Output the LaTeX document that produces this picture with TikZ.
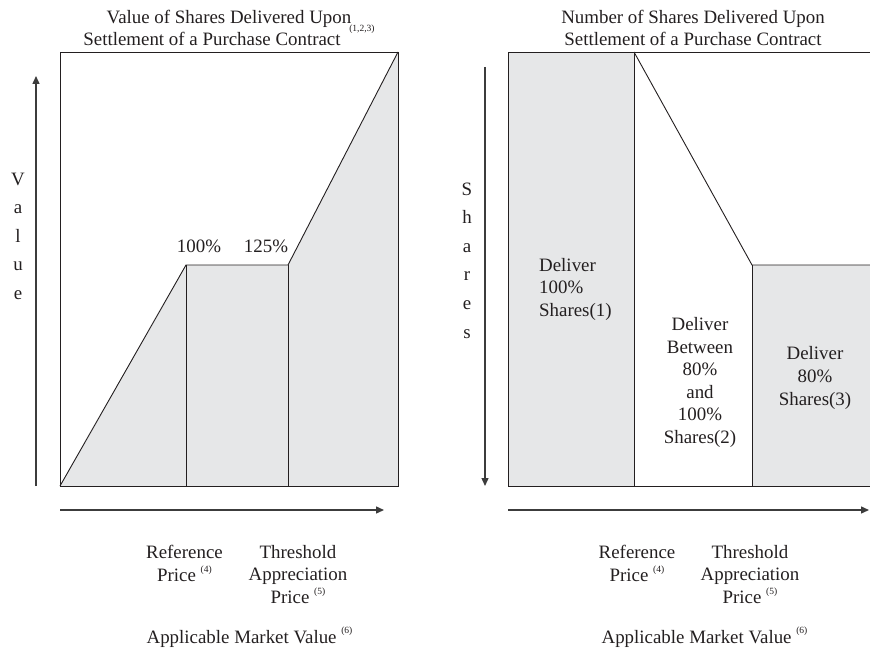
\documentclass[tikz,border=0pt]{standalone}
\usepackage{fontspec}
\setmainfont{Liberation Serif}
\usetikzlibrary{arrows.meta}
\definecolor{lightfill}{HTML}{E6E7E8}
\definecolor{ink}{HTML}{231F20}
\definecolor{axisgray}{HTML}{3C3C3C}
\newcommand{\supr}[2][10]{\smash{\raisebox{#1pt}{\fontsize{9.5}{10}\selectfont #2}}}
\begin{document}
\begin{tikzpicture}[x=1pt,y=-1pt,
  txt/.style={font=\fontsize{18.9}{22.5}\selectfont, inner sep=0pt, align=center, anchor=base, text=ink},
  vert/.style={font=\fontsize{18.9}{28.5}\selectfont, inner sep=0pt, align=center, anchor=base, text=ink},
  frame/.style={draw=ink, line width=0.9pt, line join=miter},
  axisarrow/.style={draw=axisgray, line width=1.4pt, -{Triangle[length=8pt,width=7pt]}}]
\useasboundingbox (0,0) rectangle (870,650);

% ---------- left panel ----------
\fill[lightfill] (60,486) -- (186,265) -- (288,265) -- (398,52) -- (398,486) -- cycle;
\draw[frame] (60,52) rectangle (398,486);
\draw[frame] (186,265) -- (186,486);
\draw[frame] (288,265) -- (288,486);
\draw[frame] (60,486) -- (186,265) -- (288,265) -- (398,52);

\coordinate (lvb) at (36,486);
\coordinate (lvt) at (36,76);
\draw[axisarrow] (lvb) -- (lvt);
\coordinate (lhl) at (60,510);
\coordinate (lhr) at (384,510);
\draw[axisarrow] (lhl) -- (lhr);

% (multi-line nodes: base anchor = baseline of the last line)
\node[txt] (ltitle) at (229,46) {Value of Shares Delivered Upon\\Settlement of a Purchase Contract\hspace{4pt} \supr[14]{(1,2,3)}};
\node[txt] (p100) at (199,252) {100\%};
\node[txt] (p125) at (266,252) {125\%};
\node[vert] (value) at (18,299) {V\\a\\l\\u\\e};
\node[txt] (lref) at (184.5,581) {Reference\\Price \supr[9]{(4)}};
\node[txt] (lthr) at (298,603) {Threshold\\Appreciation\\Price \supr[9]{(5)}};
\node[txt] (lamv) at (249.5,643) {Applicable Market Value \supr[10]{(6)}};

% ---------- right panel ----------
\fill[lightfill] (508,52) rectangle (634,486);
\fill[lightfill] (752,265) rectangle (870,486);
\draw[frame] (870,52) -- (508,52) -- (508,486) -- (870,486);
\draw[frame] (634,52) -- (634,486);
\draw[frame] (752,265) -- (752,486);
\draw[frame] (634,52) -- (752,265) -- (870,265);

\coordinate (rvt) at (485,67);
\coordinate (rvb) at (485,486);
\draw[axisarrow] (rvt) -- (rvb);
\coordinate (rhl) at (508,510);
\coordinate (rhr) at (869,510);
\draw[axisarrow] (rhl) -- (rhr);

\node[txt] (rtitle) at (693,46) {Number of Shares Delivered Upon\\Settlement of a Purchase Contract};
\node[vert, font=\fontsize{18.9}{28.6}\selectfont] (shares) at (467,338) {S\\h\\a\\r\\e\\s};
\node[txt, align=left, anchor=base west] (d1) at (539,316) {Deliver\\100\%\\Shares(1)};
\node[txt] (d2) at (700,443) {Deliver\\Between\\80\%\\and\\100\%\\Shares(2)};
\node[txt, font=\fontsize{18.9}{23}\selectfont] (d3) at (815,405) {Deliver\\80\%\\Shares(3)};
\node[txt] (rref) at (637,581) {Reference\\Price \supr[9]{(4)}};
\node[txt] (rthr) at (750,603) {Threshold\\Appreciation\\Price \supr[9]{(5)}};
\node[txt] (ramv) at (704.5,643) {Applicable Market Value \supr[10]{(6)}};
\end{tikzpicture}
\end{document}
